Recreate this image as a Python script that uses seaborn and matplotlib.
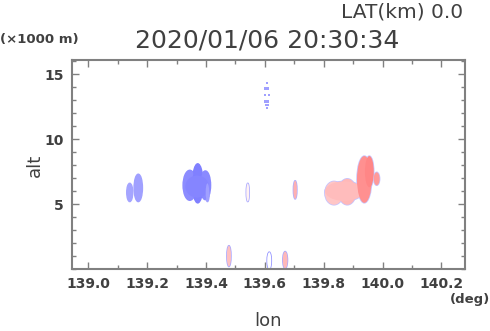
import matplotlib
matplotlib.use("Agg")
import matplotlib.pyplot as plt
from matplotlib.patches import Ellipse
from matplotlib.ticker import MultipleLocator
import seaborn as sns
import pandas as pd

sns.set_style("ticks")
plt.rcParams['font.family'] = ['DejaVu Sans']

# ---- data ----
title_time = "2020/01/06 20:30:34"
lat_label = "LAT(km) 0.0"
x_ticks = [139.0, 139.2, 139.4, 139.6, 139.8, 140.0, 140.2]
y_ticks = [5, 10, 15]

# echo blobs: centre lon, centre alt, width (deg), height (km), fill, edge
blob_lon = [139.141, 139.170,
            139.345, 139.372, 139.398, 139.370, 139.405,
            139.542, 139.478, 139.615, 139.669, 139.703,
            139.835, 139.880, 139.870, 139.938, 139.955, 139.980]
blob_alt = [5.90, 6.25,
            6.45, 6.60, 6.45, 6.35, 5.90,
            5.90, 1.00, 0.65, 0.70, 6.10,
            5.85, 5.95, 6.00, 6.90, 7.50, 6.95]
blob_w = [0.020, 0.028,
          0.045, 0.035, 0.035, 0.080, 0.012,
          0.010, 0.014, 0.014, 0.016, 0.012,
          0.062, 0.060, 0.130, 0.050, 0.030, 0.020]
blob_h = [1.40, 2.10,
          2.30, 3.00, 2.20, 1.70, 1.40,
          1.40, 1.60, 1.30, 1.30, 1.40,
          1.80, 2.00, 1.50, 3.60, 2.40, 1.00]
blob_fill = ["#a5a5ff", "#a0a0ff",
             "#8c8cff", "#8080ff", "#8a8aff", "#8585ff", "#a0a0ff",
             "#fff2f2", "#ffc0c0", "#ffffff", "#ffb8b8", "#ffb0b0",
             "#ffc6c6", "#ffb8b8", "#ffbcbc", "#ff9090", "#ff8686", "#ff9a9a"]
blob_edge = ["#a5a5ff", "#a0a0ff",
             "#8c8cff", "#8080ff", "#8a8aff", "#8585ff", "#a0a0ff",
             "#a8a8ff", "#a8a8ff", "#8c8cff", "#a8a8ff", "#b0b0ff",
             "#c4c4ff", "#c4c4ff", "#c4c4ff", "#c8c8ff", "#c8c8ff", "#c8c8ff"]

# faint dotted echo near the top
dot_lon = [139.607, 139.602, 139.612, 139.601, 139.613, 139.602, 139.612, 139.603, 139.610, 139.607]
dot_alt = [14.3, 13.9, 13.9, 13.4, 13.4, 12.9, 12.9, 12.6, 12.6, 12.4]

fig = plt.figure(figsize=(4.9, 3.31), dpi=100)
ax = fig.add_axes([0.147, 0.187, 0.802, 0.632])

# outlines first, then fills, so overlapping blobs show only their outer rim
for lo, al, w, h, ec in zip(blob_lon, blob_alt, blob_w, blob_h, blob_edge):
    ax.add_patch(Ellipse((lo, al), w, h, facecolor="none", edgecolor=ec, lw=1.1))
for lo, al, w, h, fc in zip(blob_lon, blob_alt, blob_w, blob_h, blob_fill):
    ax.add_patch(Ellipse((lo, al), w, h, facecolor=fc, edgecolor="none"))

dots = pd.DataFrame({"lon": dot_lon, "alt": dot_alt})
sns.scatterplot(data=dots, x="lon", y="alt", ax=ax, s=2.5, color="#a0a0ff",
                edgecolor="none", marker="s")

ax.set_xlim(138.945, 140.28)
ax.set_ylim(0.0, 16.1)
ax.set_xticks(x_ticks)
ax.set_xticklabels([f"{v:.1f}" for v in x_ticks])
ax.set_yticks(y_ticks)
ax.xaxis.set_minor_locator(MultipleLocator(0.1))
ax.yaxis.set_minor_locator(MultipleLocator(1))
ax.tick_params(which="both", direction="in", top=True, right=True,
               color="#808080", labelcolor="#404040")
ax.tick_params(which="major", length=5, width=1, labelsize=10, pad=6)
ax.tick_params(which="minor", length=3, width=1)
for lab in ax.get_xticklabels() + ax.get_yticklabels():
    lab.set_fontweight("bold")
for sp in ax.spines.values():
    sp.set_color("#808080")
    sp.set_linewidth(1.5)
ax.set_xlabel("")
ax.set_ylabel("")

tc = "#404040"
fig.text(267 / 490, 1 - 41 / 331, title_time, ha="center", va="center", fontsize=18, color=tc)
fig.text(463 / 490, 1 - 12 / 331, lat_label, ha="right", va="center", fontsize=14.5, color=tc)
fig.text(0 / 490, 1 - 40 / 331, "(×1000 m)", ha="left", va="center", fontsize=9.5,
         color=tc, fontweight="bold")
fig.text(490 / 490, 1 - 299 / 331, "(deg)", ha="right", va="center", fontsize=9.5,
         color=tc, fontweight="bold")
fig.text(268 / 490, 1 - 321 / 331, "lon", ha="center", va="center", fontsize=13, color=tc)
fig.text(35 / 490, 1 - 165 / 331, "alt", ha="center", va="center", fontsize=13,
         color=tc, rotation=90)

fig.savefig("out.png", dpi=100)
